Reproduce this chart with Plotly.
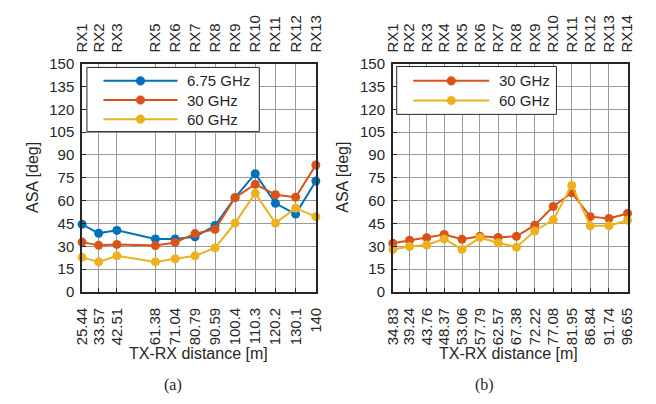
import plotly.graph_objects as go

# ---- data (a) ----
dist_a = [25.44, 33.57, 42.51, 61.38, 71.04, 80.79, 90.59, 100.4, 110.3, 120.2, 130.1, 140]
dist_a_labels = ["25.44", "33.57", "42.51", "61.38", "71.04", "80.79", "90.59", "100.4", "110.3", "120.2", "130.1", "140"]
rx_a = ["RX1", "RX2", "RX3", "RX5", "RX6", "RX7", "RX8", "RX9", "RX10", "RX11", "RX12", "RX13"]
asa_a_675 = [44.5, 38.6, 40.5, 34.9, 34.9, 36.3, 43.7, 62.0, 77.7, 58.3, 51.2, 72.9]
asa_a_30 = [32.8, 30.7, 31.3, 30.5, 32.6, 38.4, 41.2, 62.0, 70.8, 63.9, 62.3, 83.4]
asa_a_60 = [22.8, 19.8, 23.8, 19.8, 21.9, 23.8, 29.0, 45.3, 64.8, 45.3, 55.1, 49.5]

# ---- data (b) ----
dist_b = [34.83, 39.24, 43.76, 48.37, 53.06, 57.79, 62.57, 67.38, 72.22, 77.08, 81.95, 86.84, 91.74, 96.65]
dist_b_labels = ["34.83", "39.24", "43.76", "48.37", "53.06", "57.79", "62.57", "67.38", "72.22", "77.08", "81.95", "86.84", "91.74", "96.65"]
rx_b = ["RX1", "RX2", "RX3", "RX4", "RX5", "RX6", "RX7", "RX8", "RX9", "RX10", "RX11", "RX12", "RX13", "RX14"]
asa_b_30 = [32.0, 34.0, 35.7, 37.8, 34.7, 36.6, 35.9, 36.6, 43.9, 56.2, 65.2, 49.5, 48.3, 51.6]
asa_b_60 = [28.0, 29.9, 30.9, 34.9, 28.0, 35.7, 32.4, 29.5, 40.1, 47.4, 70.0, 43.5, 43.5, 47.2]

series_a_names = ["6.75 GHz", "30 GHz", "60 GHz"]
series_b_names = ["30 GHz", "60 GHz"]

y_ticks = list(range(0, 151, 15))

C_BLUE = "#0072BD"
C_ORANGE = "#D95319"
C_YELLOW = "#EDB120"
colors_a = [C_BLUE, C_ORANGE, C_YELLOW]
colors_b = [C_ORANGE, C_YELLOW]
FONT = "Arial"
TXT = "#262626"
W, H = 656, 404

fig = go.Figure()

def add(x, y, name, color, xa, ya):
    fig.add_trace(go.Scatter(
        x=x, y=y, name=name, mode="lines+markers",
        line=dict(color=color, width=2),
        marker=dict(color=color, size=9),
        cliponaxis=False,
        xaxis=xa, yaxis=ya, showlegend=False))

for yv, nm, c in zip([asa_a_675, asa_a_30, asa_a_60], series_a_names, colors_a):
    add(dist_a, yv, nm, c, "x", "y")
for yv, nm, c in zip([asa_b_30, asa_b_60], series_b_names, colors_b):
    add(dist_b, yv, nm, c, "x2", "y2")

# dummy traces to activate top axes
fig.add_trace(go.Scatter(x=[dist_a[0]], y=[None], xaxis="x3", yaxis="y", showlegend=False, hoverinfo="skip"))
fig.add_trace(go.Scatter(x=[dist_b[0]], y=[None], xaxis="x4", yaxis="y2", showlegend=False, hoverinfo="skip"))

dom_a = [75 / W, 315 / W]
dom_b = [394 / W, 635 / W]
dom_y = [1 - 295.5 / H, 1 - 57 / H]

tickfont = dict(family=FONT, size=15, color=TXT)
axis_common = dict(
    showline=True, linecolor=TXT, linewidth=1.5, mirror=True,
    showgrid=True, gridcolor="#9a9a9a", gridwidth=1,
    ticks="inside", ticklen=4, tickcolor=TXT,
    tickfont=tickfont, zeroline=False,
)
top_common = dict(showgrid=False, showline=False, ticks="", tickfont=tickfont,
                  zeroline=False, tickangle=-90, ticklabelstandoff=10)

fig.update_layout(
    width=W, height=H,
    margin=dict(l=0, r=0, t=0, b=0),
    paper_bgcolor="white", plot_bgcolor="white",
    font=dict(family=FONT, size=15, color=TXT),
    xaxis=dict(domain=dom_a, anchor="y", range=[dist_a[0], dist_a[-1]],
               tickmode="array", tickvals=dist_a, ticktext=dist_a_labels, tickangle=-90,
               ticklabelstandoff=8, **axis_common),
    xaxis3=dict(overlaying="x", side="top", anchor="y", range=[dist_a[0], dist_a[-1]],
                tickmode="array", tickvals=dist_a, ticktext=rx_a, **top_common),
    yaxis=dict(domain=dom_y, anchor="x", range=[0, 150], tickmode="array", tickvals=y_ticks,
               ticklabelstandoff=3, **axis_common),
    xaxis2=dict(domain=dom_b, anchor="y2", range=[dist_b[0], dist_b[-1]],
                tickmode="array", tickvals=dist_b, ticktext=dist_b_labels, tickangle=-90,
                ticklabelstandoff=8, **axis_common),
    xaxis4=dict(overlaying="x2", side="top", anchor="y2", range=[dist_b[0], dist_b[-1]],
                tickmode="array", tickvals=dist_b, ticktext=rx_b, **top_common),
    yaxis2=dict(domain=dom_y, anchor="x2", range=[0, 150], tickmode="array", tickvals=y_ticks,
                ticklabelstandoff=3, **axis_common),
    showlegend=False,
)

shapes = []
annotations = []

def px(x):
    return x / W

def py(y):
    return 1 - y / H

def legend_box(x0, y0, x1, y1, names, cols, ys, lx0, lx1, tx):
    shapes.append(dict(type="rect", xref="paper", yref="paper",
                       x0=px(x0), x1=px(x1), y0=py(y1), y1=py(y0),
                       line=dict(color=TXT, width=1), fillcolor="white", layer="above"))
    for nm, c, yy in zip(names, cols, ys):
        shapes.append(dict(type="line", xref="paper", yref="paper",
                           x0=px(lx0), x1=px(lx1), y0=py(yy), y1=py(yy),
                           line=dict(color=c, width=2), layer="above"))
        cx = (lx0 + lx1) / 2
        r = 4.5
        shapes.append(dict(type="circle", xref="paper", yref="paper",
                           x0=px(cx - r), x1=px(cx + r), y0=py(yy + r), y1=py(yy - r),
                           line=dict(color=c, width=0.5), fillcolor=c, layer="above"))
        annotations.append(dict(text=nm, x=px(tx), y=py(yy), xref="paper", yref="paper",
                                xanchor="left", yanchor="middle", showarrow=False,
                                font=dict(family=FONT, size=15, color=TXT)))

legend_box(80, 61, 257, 128, series_a_names, colors_a, [75, 95, 115], 97, 173, 181)
legend_box(398, 60, 562, 110, series_b_names, colors_b, [75, 95.5], 415, 493, 501)

ann_font = dict(family=FONT, size=16, color=TXT)
serif = dict(family="Liberation Serif, Times New Roman, serif", size=16, color=TXT)

def label(text, x, y, font, angle=0):
    annotations.append(dict(text=text, x=px(x), y=py(y), xref="paper", yref="paper",
                            xanchor="center", yanchor="middle", textangle=angle,
                            showarrow=False, font=font))

label("ASA [deg]", 24, 176, ann_font, -90)
label("ASA [deg]", 342, 176, ann_font, -90)
label("TX-RX distance [m]", 195, 360, ann_font)
label("TX-RX distance [m]", 513, 360, ann_font)
label("(a)", 168, 393, serif)
label("(b)", 488, 393, serif)

fig.update_layout(shapes=shapes, annotations=annotations)

fig.write_html("out.html")
